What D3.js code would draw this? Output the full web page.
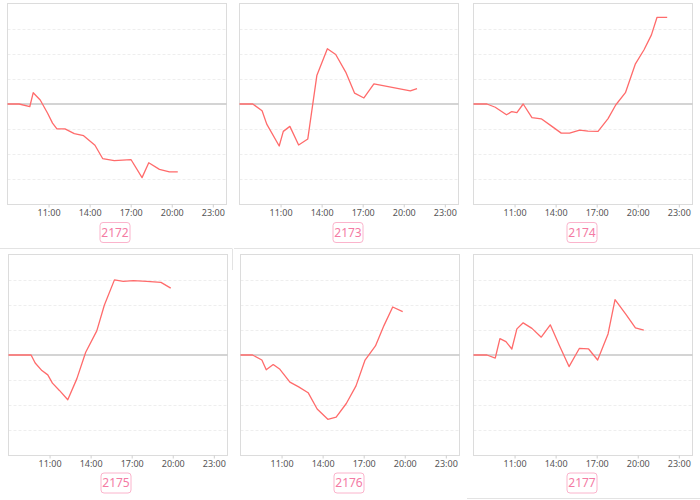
<!DOCTYPE html>
<html><head><meta charset="utf-8">
<script src="https://cdn.jsdelivr.net/npm/d3@7"></script>
<style>body{margin:0;background:#fff;}svg{display:block;}</style>
</head><body>
<script>
// ---- data ----
const panelIds = ["2172","2173","2174","2175","2176","2177"];
const xTickHours = [11,14,17,20,23];
const xTickLabels = ["11:00","14:00","17:00","20:00","23:00"];

const t2172 = [8.0,8.85,9.63,9.88,10.39,10.93,11.29,11.61,12.2,12.88,13.56,14.39,14.95,15.8,17.02,17.83,18.32,19.1,19.83,20.44];
const v2172 = [0,0,-0.1,0.45,0.16,-0.37,-0.76,-0.99,-0.99,-1.18,-1.26,-1.64,-2.17,-2.25,-2.21,-2.93,-2.34,-2.6,-2.7,-2.7];

const t2173 = [8.0,8.97,9.65,9.99,10.9,11.2,11.68,12.32,12.99,13.65,14.42,15.03,15.76,16.41,17.09,17.82,20.48,20.97];
const v2173 = [0,0,-0.27,-0.8,-1.67,-1.09,-0.89,-1.63,-1.39,1.13,2.2,1.97,1.27,0.43,0.24,0.8,0.52,0.61];

const t2174 = [8.0,8.98,9.59,10.41,10.8,11.17,11.63,12.27,12.95,13.68,14.41,15.02,15.76,16.37,17.1,17.83,18.39,19.1,19.83,20.46,21.0,21.41,22.15];
const v2174 = [0,0,-0.13,-0.43,-0.3,-0.34,0,-0.54,-0.59,-0.87,-1.16,-1.16,-1.04,-1.08,-1.09,-0.58,-0.04,0.45,1.6,2.16,2.75,3.45,3.45];

const t2175 = [8.0,9.65,9.95,10.44,10.87,11.21,11.72,12.33,12.99,13.64,14.45,15.0,15.74,16.39,17.12,18.1,19.14,19.85];
const v2175 = [0,0,-0.32,-0.62,-0.79,-1.12,-1.41,-1.78,-0.95,0.11,0.96,1.98,2.99,2.93,2.96,2.93,2.89,2.66];

const t2176 = [8.0,8.88,9.56,9.88,10.39,10.88,11.61,12.25,12.94,13.6,14.38,14.99,15.73,16.44,17.1,17.86,18.48,19.12,19.85];
const v2176 = [0,0,-0.2,-0.59,-0.38,-0.57,-1.08,-1.27,-1.5,-2.15,-2.56,-2.47,-1.93,-1.23,-0.2,0.36,1.17,1.91,1.73];

const t2177 = [8.0,8.98,9.59,9.93,10.37,10.8,11.17,11.63,12.27,12.95,13.61,14.29,14.98,15.73,16.41,17.07,17.83,18.34,19.15,19.83,20.44];
const v2177 = [0,0,-0.12,0.65,0.53,0.24,1.04,1.28,1.06,0.71,1.2,0.36,-0.46,0.26,0.24,-0.2,0.84,2.2,1.61,1.08,0.99];

const seriesTimes = [t2172,t2173,t2174,t2175,t2176,t2177];
const seriesValues = [v2172,v2173,v2174,v2175,v2176,v2177];
const gridLevels = [-3,-2,-1,1,2,3];

// ---- layout ----
const W = 700, H = 500;
const svg = d3.select("body").append("svg").attr("width", W).attr("height", H);

// card separators
const sep = svg.append("g").attr("stroke", "#e3e3e3").attr("stroke-width", 1);
sep.append("line").attr("x1",0).attr("x2",232).attr("y1",248.5).attr("y2",248.5);
sep.append("line").attr("x1",234).attr("x2",700).attr("y1",248.5).attr("y2",248.5);
sep.append("line").attr("x1",232.5).attr("x2",232.5).attr("y1",248.5).attr("y2",270);
sep.append("line").attr("x1",467).attr("x2",700).attr("y1",498.5).attr("y2",498.5);

const colX = [[7.5,226.5],[239.5,458.5],[473.5,692.5]];
const colXb = [[8.5,227.5],[240.5,459.5],[473.5,692.5]];
const rowY = [[3.5,204.5],[254.5,455.5]];

panelIds.forEach((id, i) => {
  const r = Math.floor(i/3), c = i % 3;
  const [x0, x1] = r === 0 ? colX[c] : colXb[c];
  const [y0, y1] = rowY[r];
  const x = d3.scaleLinear().domain([8,24]).range([x0, x1]);
  const y = d3.scaleLinear().domain([-4,4]).range([y1, y0]);
  const g = svg.append("g");

  // grid
  g.selectAll("line.grid").data(gridLevels).join("line")
    .attr("x1", x0).attr("x2", x1)
    .attr("y1", d => Math.round(y(d)) + 0.5).attr("y2", d => Math.round(y(d)) + 0.5)
    .attr("stroke", "#eeeeee").attr("stroke-dasharray", "3,2");

  // frame
  g.append("rect").attr("x", x0).attr("y", y0).attr("width", x1 - x0).attr("height", y1 - y0)
    .attr("fill", "none").attr("stroke", "#dcdcdc");

  // zero line
  g.append("line").attr("x1", x0).attr("x2", x1)
    .attr("y1", y(0)).attr("y2", y(0))
    .attr("stroke", "#c6c6c6").attr("stroke-width", 1.4);

  // x axis
  const ax = d3.axisBottom(x).tickValues(xTickHours).tickSize(3)
    .tickFormat((d, k) => xTickLabels[k]);
  const axg = g.append("g").attr("transform", `translate(0,${y1})`).call(ax);
  axg.select(".domain").remove();
  axg.selectAll(".tick line").attr("stroke", "#cfcfcf");
  axg.selectAll(".tick text").attr("fill", "#555").attr("font-size", 9)
    .attr("font-family", "'Noto Sans', 'Open Sans', sans-serif").attr("dy", "0.6em");

  // line
  const pts = seriesTimes[i].map((t, k) => [t, seriesValues[i][k]]);
  g.append("path").datum(pts)
    .attr("d", d3.line().x(d => x(d[0])).y(d => y(d[1])))
    .attr("fill", "none").attr("stroke", "#ff6b6b").attr("stroke-width", 1.3)
    .attr("stroke-linejoin", "round");

  // id badge
  const cx = (x0 + x1) / 2 - 1 + (c === 0 ? -1 : 0);
  const cy = r === 0 ? 232.5 : 483;
  g.append("rect").attr("x", cx - 15).attr("y", cy - 10).attr("width", 30).attr("height", 20)
    .attr("rx", 3).attr("fill", "#fff").attr("stroke", "#fbb4cc").attr("stroke-width", 1);
  g.append("text").attr("x", cx).attr("y", cy).attr("dy", "0.36em")
    .attr("text-anchor", "middle").attr("font-size", 12)
    .attr("font-family", "'Noto Sans', 'Open Sans', sans-serif")
    .attr("fill", "#f47aa3").text(id);
});
</script>
</body></html>
